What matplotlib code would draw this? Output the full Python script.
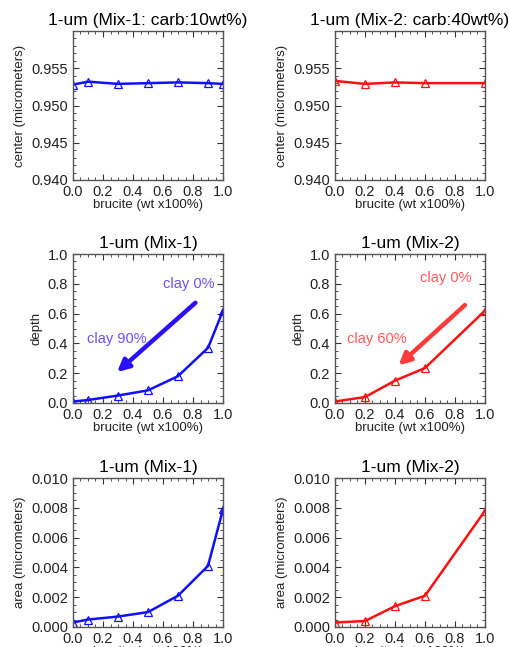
import matplotlib.pyplot as plt
from matplotlib.ticker import MultipleLocator

plt.rcParams['font.family'] = ['Liberation Sans', 'DejaVu Sans']

# brucite fractions
x1 = [0.0, 0.1, 0.3, 0.5, 0.7, 0.9, 1.0]
x2 = [0.0, 0.2, 0.4, 0.6, 1.0]

# band center (micrometers)
center1 = [0.9528, 0.9532, 0.9529, 0.9530, 0.9531, 0.9530, 0.9529]
center2 = [0.9533, 0.9529, 0.9531, 0.9530, 0.9530]

# band depth
depth1 = [0.01, 0.02, 0.05, 0.085, 0.18, 0.37, 0.62]
depth2 = [0.01, 0.04, 0.15, 0.235, 0.62]

# band area
area1 = [0.0003, 0.0005, 0.0007, 0.0010, 0.0021, 0.0041, 0.0079]
area2 = [0.0003, 0.0004, 0.0014, 0.0021, 0.0078]

W, H = 510, 647
fig = plt.figure(figsize=(W / 100, H / 100), dpi=100)


def make_ax(l, t, w=150, h=149):
    return fig.add_axes([l / W, 1 - (t + h) / H, w / W, h / H])


def style(ax, ylim, ymaj, ymin, ylabel, title, fmt):
    ax.set_xlim(0, 1)
    ax.set_ylim(*ylim)
    ax.xaxis.set_major_locator(MultipleLocator(0.2))
    ax.xaxis.set_minor_locator(MultipleLocator(0.05))
    ax.yaxis.set_major_locator(MultipleLocator(ymaj))
    ax.yaxis.set_minor_locator(MultipleLocator(ymin))
    ax.tick_params(which='both', direction='in', top=True, right=True,
                   labelsize=10.5, colors='#333333', labelcolor='#222222')
    ax.tick_params(which='major', length=4)
    ax.tick_params(which='minor', length=2)
    ax.set_xticks([0, 0.2, 0.4, 0.6, 0.8, 1.0])
    ax.set_xticklabels(['0.0', '0.2', '0.4', '0.6', '0.8', '1.0'])
    yt = ax.get_yticks()
    yt = [v for v in yt if ylim[0] - 1e-9 <= v <= ylim[1] + 1e-9]
    ax.set_yticks(yt)
    ax.set_yticklabels([fmt.format(v) for v in yt])
    for s in ax.spines.values():
        s.set_color('#555555')
        s.set_linewidth(1.0)
    ax.set_xlabel('brucite (wt x100%)', fontsize=9.5, color='#222222', labelpad=0)
    ax.set_ylabel(ylabel, fontsize=9.5, color='#222222')
    ax.set_title(title, fontsize=12.5, pad=4)


def plot(ax, x, y, c):
    ax.plot(x, y, '-', color=c, lw=1.8, marker='^', ms=6,
            mfc='none', mec=c, mew=0.9)


blue = '#1010ff'
red = '#ff1010'

# row 1: center
ax = make_ax(73, 31)
plot(ax, x1, center1, blue)
style(ax, (0.940, 0.960), 0.005, 0.001, 'center (micrometers)',
      '1-um (Mix-1: carb:10wt%)', '{:.3f}')
ax.set_yticks([0.940, 0.945, 0.950, 0.955])
ax.set_yticklabels(['0.940', '0.945', '0.950', '0.955'])

ax = make_ax(335, 31)
plot(ax, x2, center2, red)
style(ax, (0.940, 0.960), 0.005, 0.001, 'center (micrometers)',
      '1-um (Mix-2: carb:40wt%)', '{:.3f}')
ax.set_yticks([0.940, 0.945, 0.950, 0.955])
ax.set_yticklabels(['0.940', '0.945', '0.950', '0.955'])

# row 2: depth
ax = make_ax(73, 254)
plot(ax, x1, depth1, blue)
style(ax, (0.0, 1.0), 0.2, 0.05, 'depth', '1-um (Mix-1)', '{:.1f}')
ax.annotate('', xy=(0.28, 0.195), xytext=(0.83, 0.685),
            arrowprops=dict(arrowstyle='-|>,head_length=0.7,head_width=0.35',
                            color='#2a10ff', lw=3.2))
ax.text(0.77, 0.8, 'clay 0%', color='#6a50ff', fontsize=10.5, ha='center', va='center')
ax.text(0.29, 0.43, 'clay 90%', color='#6a50ff', fontsize=10.5, ha='center', va='center')

ax = make_ax(335, 254)
plot(ax, x2, depth2, red)
style(ax, (0.0, 1.0), 0.2, 0.05, 'depth', '1-um (Mix-2)', '{:.1f}')
ax.annotate('', xy=(0.41, 0.24), xytext=(0.88, 0.67),
            arrowprops=dict(arrowstyle='-|>,head_length=0.7,head_width=0.35',
                            color='#ff3a3a', lw=3.2))
ax.text(0.74, 0.84, 'clay 0%', color='#ff5a5a', fontsize=10.5, ha='center', va='center')
ax.text(0.28, 0.43, 'clay 60%', color='#ff5a5a', fontsize=10.5, ha='center', va='center')

# row 3: area
ax = make_ax(73, 478)
plot(ax, x1, area1, blue)
style(ax, (0.0, 0.010), 0.002, 0.0005, 'area (micrometers)', '1-um (Mix-1)', '{:.3f}')

ax = make_ax(335, 478)
plot(ax, x2, area2, red)
style(ax, (0.0, 0.010), 0.002, 0.0005, 'area (micrometers)', '1-um (Mix-2)', '{:.3f}')

fig.savefig('out.png', dpi=100)
